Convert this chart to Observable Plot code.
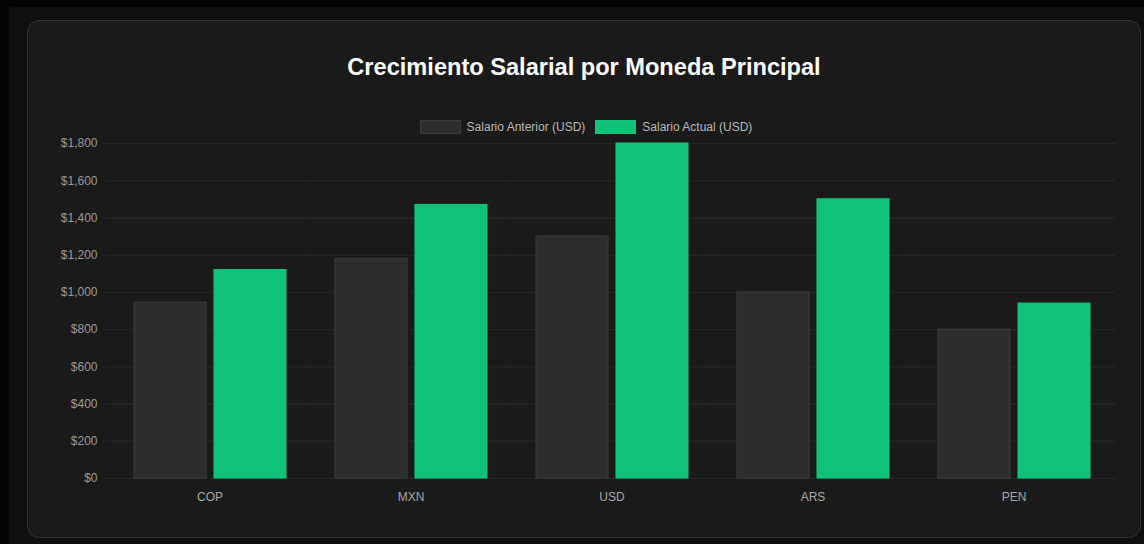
<!DOCTYPE html>
<html>
<head>
<meta charset="utf-8">
<script src="https://cdn.jsdelivr.net/npm/d3@7"></script>
<script src="https://cdn.jsdelivr.net/npm/@observablehq/plot@0.6"></script>
<style>
html,body{margin:0;padding:0;width:1144px;height:544px;overflow:hidden;background:#040404;font-family:"Liberation Sans",Arial,Helvetica,sans-serif;}
#page{position:absolute;left:9px;top:7px;right:0;bottom:0;background:#0f0f0f;}
#card{position:absolute;left:27px;top:20px;width:1112px;height:516px;background:#1a1a1a;border:1px solid #333;border-radius:12px;}
#title{position:absolute;left:0;right:0;top:32px;text-align:center;color:#fff;font-weight:bold;font-size:23.6px;line-height:28px;}
#legend{position:absolute;left:4px;right:0;top:99px;display:flex;justify-content:center;align-items:center;gap:10px;font-size:12px;color:#b8b8b8;}
.item{display:flex;align-items:center;gap:6px;}
.sw{width:39px;height:12px;display:inline-block;}
#chart{position:absolute;left:0;top:114px;}
</style>
</head>
<body>
<div id="page"></div>
<div id="card">
  <div id="title">Crecimiento Salarial por Moneda Principal</div>
  <div id="legend"></div>
  <div id="chart"></div>
</div>
<script>
const currencies = ["COP", "MXN", "USD", "ARS", "PEN"];
const seriesNames = ["Salario Anterior (USD)", "Salario Actual (USD)"];
const salarioAnterior = [945, 1180, 1300, 1000, 800];
const salarioActual = [1120, 1470, 1800, 1500, 940];
const yTicks = [0, 200, 400, 600, 800, 1000, 1200, 1400, 1600, 1800];

const fills = ["#2e2e2e", "#10c177"];
const strokes = ["#3d3d3d", "#12c97c"];

const data = [];
currencies.forEach((c, i) => {
  data.push({currency: c, series: seriesNames[0], value: salarioAnterior[i]});
  data.push({currency: c, series: seriesNames[1], value: salarioActual[i]});
});

const legend = document.getElementById("legend");
seriesNames.forEach((s, i) => {
  const it = document.createElement("div");
  it.className = "item";
  const sw = document.createElement("span");
  sw.className = "sw";
  sw.style.background = fills[i];
  sw.style.border = "1px solid " + strokes[i];
  const t = document.createElement("span");
  t.textContent = s;
  it.appendChild(sw); it.appendChild(t);
  legend.appendChild(it);
});

const fmt = d => "$" + d3.format(",")(d);

const chart = Plot.plot({
  width: 1112,
  height: 383,
  marginLeft: 80,
  marginRight: 26,
  marginTop: 8,
  marginBottom: 40,
  style: {background: "transparent", color: "#a8a8a8", fontSize: "12px", fontFamily: "'Liberation Sans', Arial, sans-serif"},
  fx: {domain: currencies, paddingInner: 0.2, paddingOuter: 0.1, label: null, axis: "bottom", tickSize: 0, tickPadding: 14},
  x: {domain: seriesNames, paddingInner: 0.1, paddingOuter: 0.05, axis: null},
  y: {domain: [0, 1800], axis: null},
  color: {domain: seriesNames, range: fills},
  marks: [
    Plot.ruleY(yTicks, {y: d => d, stroke: "#272727", strokeWidth: 1, insetLeft: -21, insetRight: -21}),
    Plot.ruleY(yTicks, {y: d => d, stroke: "#272727", strokeWidth: 1, insetLeft: -26, insetRight: -22, facet: "exclude"}),
    Plot.axisY(yTicks, {tickSize: 0, tickPadding: 32, tickFormat: fmt, label: null, fill: "#9a9a9a"}),
    Plot.barY(data, {fx: "currency", x: "series", y: "value", fill: "series", stroke: d => d.series === seriesNames[0] ? strokes[0] : strokes[1], strokeWidth: 1})
  ]
});
document.getElementById("chart").appendChild(chart);
</script>
</body>
</html>
